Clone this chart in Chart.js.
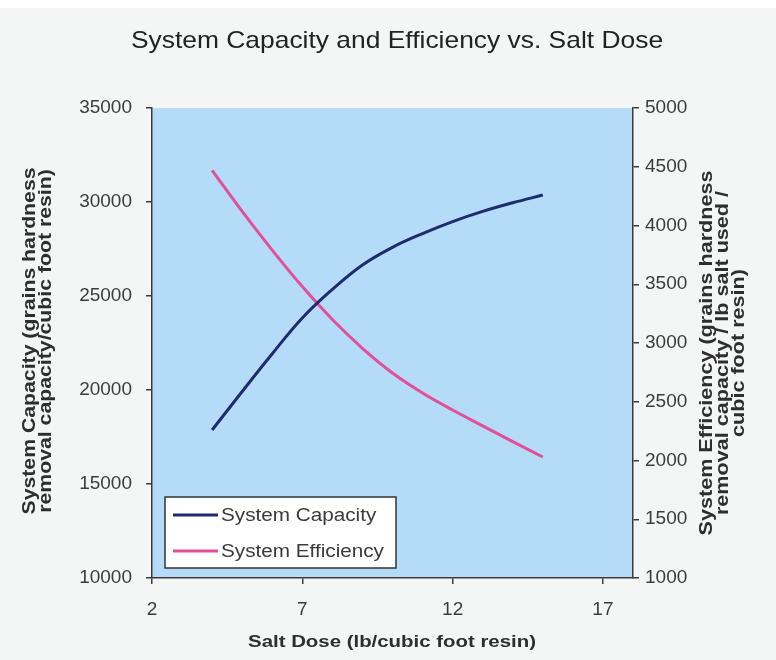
<!DOCTYPE html>
<html>
<head>
<meta charset="utf-8">
<title>System Capacity and Efficiency vs. Salt Dose</title>
<script src="https://cdn.jsdelivr.net/npm/chart.js@4/dist/chart.umd.min.js"></script>
<style>
    html, body { margin: 0; padding: 0; background: #f3f6f5; }
    #wrap { width: 776px; height: 660px; position: relative; }
</style>
</head>
<body>
<div id="wrap"><canvas id="chart"></canvas></div>
<script>
// Datos
const saltDose = [4, 5, 6, 7, 8, 9, 10, 11, 12, 13, 14, 15];
const capacity = [17870, 19920, 21930, 23830, 25350, 26650, 27590, 28320, 28960, 29500, 29960, 30370];
const efficiency = [4470, 4120, 3790, 3480, 3200, 2955, 2745, 2575, 2430, 2295, 2160, 2030];
const xTicks = [2, 7, 12, 17];
const capTicks = [10000, 15000, 20000, 25000, 30000, 35000];
const effTicks = [1000, 1500, 2000, 2500, 3000, 3500, 4000, 4500, 5000];

const TEXT = '#3c3c3c';
const AXIS = '#3a3a3a';
const FONT = "'Liberation Sans', Arial, sans-serif";

Chart.defaults.font.family = FONT;
Chart.defaults.color = TEXT;

function toPoints(xs, ys) {
    return xs.map((x, i) => ({ x: x, y: ys[i] }));
}

// texto algo estirado a lo largo, como en la imagen original
function stretchedText(ctx, text, x, y, sx) {
    ctx.save();
    ctx.translate(x, y);
    ctx.scale(sx, 1);
    ctx.fillText(text, 0, 0);
    ctx.restore();
}

// Fondo, títulos y leyenda dibujados a mano (estilo Excel)
const decorations = {
    id: 'decorations',
    beforeDraw(chart) {
        const ctx = chart.ctx;
        const a = chart.chartArea;
        ctx.save();
        ctx.fillStyle = '#f3f6f5';
        ctx.fillRect(0, 0, chart.width, chart.height);
        ctx.fillStyle = '#ffffff';
        ctx.fillRect(0, 0, chart.width, 8);
        ctx.fillStyle = '#b4dcf8';
        ctx.fillRect(a.left, a.top, a.right - a.left, a.bottom - a.top);
        ctx.restore();
    },
    afterDraw(chart) {
        const ctx = chart.ctx;
        const a = chart.chartArea;
        ctx.save();
        ctx.textAlign = 'center';
        ctx.textBaseline = 'middle';

        // título
        ctx.fillStyle = '#222222';
        ctx.font = '24px ' + FONT;
        stretchedText(ctx, 'System Capacity and Efficiency vs. Salt Dose', 397, 41, 1.1);

        // título eje X
        ctx.fillStyle = '#2e2e2e';
        ctx.font = 'bold 17px ' + FONT;
        stretchedText(ctx, 'Salt Dose (lb/cubic foot resin)', 392, 642, 1.2);

        // títulos ejes Y (ambos rotados -90)
        const drawVertical = (lines, cx, cy, step, sx) => {
            ctx.save();
            ctx.translate(cx, cy);
            ctx.rotate(-Math.PI / 2);
            lines.forEach((line, i) => {
                stretchedText(ctx, line, 0, (i - (lines.length - 1) / 2) * step, sx);
            });
            ctx.restore();
        };
        ctx.font = 'bold 18px ' + FONT;
        drawVertical(['System Capacity (grains hardness', 'removal capacity/cubic foot resin)'], 38, 341, 16.5, 1.18);
        drawVertical(['System Efficiency (grains hardness', 'removal capacity / lb salt used /', 'cubic foot resin)'], 723, 353, 16, 1.2);

        // leyenda
        const lx = a.left + 13, ly = a.bottom - 81, lw = 231, lh = 71;
        ctx.fillStyle = '#ffffff';
        ctx.fillRect(lx, ly, lw, lh);
        ctx.strokeStyle = '#333333';
        ctx.lineWidth = 1.5;
        ctx.strokeRect(lx, ly, lw, lh);
        ctx.font = '18px ' + FONT;
        ctx.textAlign = 'left';
        chart.data.datasets.forEach((ds, i) => {
            const y = ly + 18 + i * 36;
            ctx.strokeStyle = ds.borderColor;
            ctx.lineWidth = 3;
            ctx.beginPath();
            ctx.moveTo(lx + 8, y);
            ctx.lineTo(lx + 53, y);
            ctx.stroke();
            ctx.fillStyle = '#3a3a3a';
            stretchedText(ctx, ds.label, lx + 56, y + 1, 1.15);
        });
        ctx.restore();
    }
};

new Chart(document.getElementById('chart'), {
    type: 'line',
    data: {
        datasets: [
            {
                label: 'System Capacity',
                data: toPoints(saltDose, capacity),
                borderColor: '#202a6e',
                borderWidth: 3,
                pointRadius: 0,
                tension: 0.4,
                yAxisID: 'y'
            },
            {
                label: 'System Efficiency',
                data: toPoints(saltDose, efficiency),
                borderColor: '#e2509a',
                borderWidth: 3,
                pointRadius: 0,
                tension: 0.4,
                yAxisID: 'y1'
            }
        ]
    },
    options: {
        responsive: true,
        maintainAspectRatio: false,
        animation: false,
        layout: { padding: { top: 108, left: 0, right: 0, bottom: 0 } },
        plugins: {
            legend: { display: false },
            title: { display: false },
            tooltip: { enabled: false }
        },
        scales: {
            x: {
                type: 'linear',
                min: 2,
                max: 18,
                afterBuildTicks: s => { s.ticks = xTicks.map(v => ({ value: v })); },
                afterFit: s => { s.height = 82; },
                grid: { drawOnChartArea: false, tickLength: 6, color: AXIS, lineWidth: 1.5 },
                border: { display: true, color: AXIS, width: 1.5 },
                ticks: { padding: 14, font: { size: 19 }, color: TEXT, maxRotation: 0 }
            },
            y: {
                type: 'linear',
                position: 'left',
                min: 10000,
                max: 35000,
                afterBuildTicks: s => { s.ticks = capTicks.map(v => ({ value: v })); },
                afterFit: s => { s.width = 152; },
                grid: { drawOnChartArea: false, tickLength: 6, color: AXIS, lineWidth: 1.5 },
                border: { display: true, color: AXIS, width: 1.5 },
                ticks: { padding: 14, font: { size: 19 }, color: TEXT, callback: v => String(v) }
            },
            y1: {
                type: 'linear',
                position: 'right',
                min: 1000,
                max: 5000,
                afterBuildTicks: s => { s.ticks = effTicks.map(v => ({ value: v })); },
                afterFit: s => { s.width = 143; },
                grid: { drawOnChartArea: false, tickLength: 6, color: AXIS, lineWidth: 1.5 },
                border: { display: true, color: AXIS, width: 1.5 },
                ticks: { padding: 6, font: { size: 19 }, color: TEXT, callback: v => String(v) }
            }
        }
    },
    plugins: [decorations]
});
</script>
</body>
</html>
